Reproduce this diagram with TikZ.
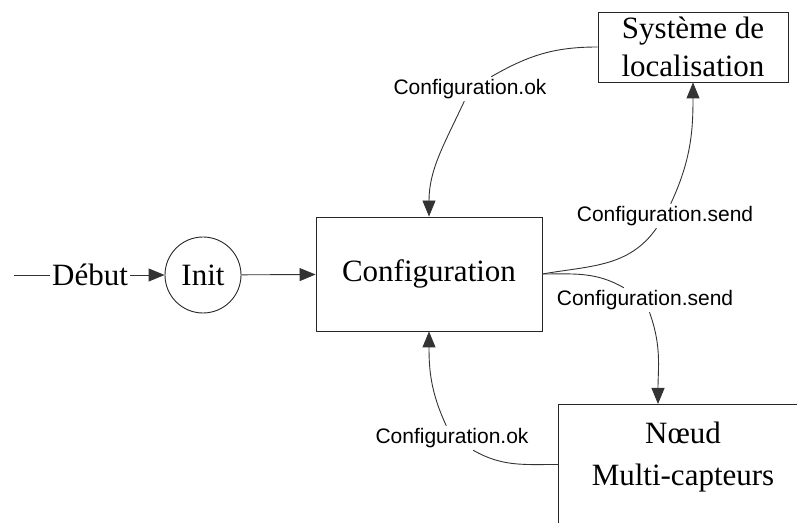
\documentclass[tikz,border=0pt]{standalone}
\usepackage{fontspec}
\setmainfont{Liberation Serif}
\newfontfamily\labfont{Liberation Sans}
\usetikzlibrary{arrows.meta}
\begin{document}
\begin{tikzpicture}[x=1pt,y=1pt,
  line width=0.9pt,
  conn/.style={draw=black!80},
  arr/.style={-{Triangle[length=16pt,width=13pt]}},
  boxnode/.style={draw=black!85, rectangle, inner sep=0pt},
  big/.style={font=\fontsize{31}{38}\selectfont},
  lab/.style={font=\labfont\fontsize{21}{25}\selectfont, inner sep=2pt},
]
\useasboundingbox (0,0) rectangle (797,522);
\clip (0,0) rectangle (797,522);
% main nodes
\node[boxnode, big, minimum width=226pt, minimum height=114pt] (conf) at (429,248) {\raisebox{-4pt}{Configuration}};
\node[boxnode, big, minimum width=190pt, minimum height=70pt, align=center] (sys) at (693,475) {Système de\\localisation};
\node[draw=black!85, circle, minimum size=76pt, inner sep=0pt, big] (init) at (203,247) {Init};
\node[boxnode, minimum width=300pt, minimum height=120pt, anchor=north west] (noeud) at (558,118) {};
\node[big, anchor=base] (noeudA) at (683,79) {Nœud};
\node[big, anchor=base] (noeudB) at (683,37) {Multi-capteurs};
\coordinate (nN) at (658,118);
% start
\coordinate (start) at (14,247);
\node[big, inner sep=1.5pt] (debut) at (90,247) {Début};
\draw[conn] (start) -- (debut);
\draw[conn,arr] (debut) -- (init);
\draw[conn,arr] (init) -- (conf);
% labels
\node[lab] (l1) at (470,433) {Configuration.ok};
\node[lab] (l2) at (665,306) {Configuration.send};
\node[lab] (l3) at (645,222) {Configuration.send};
\node[lab] (l4) at (452,84) {Configuration.ok};
% curves
\draw[conn] (sys.west) to[out=180,in=30] (l1);
\draw[conn,arr] (l1) to[out=245,in=90] (conf.north);
\draw[conn] (conf.east) to[out=10,in=235] (l2);
\draw[conn,arr] (l2) to[out=65,in=-90] (sys.south);
\draw[conn] (conf.east) to[out=0,in=150] (l3);
\draw[conn,arr] (l3) to[out=-70,in=90] (nN);
\draw[conn] (noeud.west) to[out=180,in=-30] (l4);
\draw[conn,arr] (l4) to[out=115,in=-90] (conf.south);
\end{tikzpicture}
\end{document}
